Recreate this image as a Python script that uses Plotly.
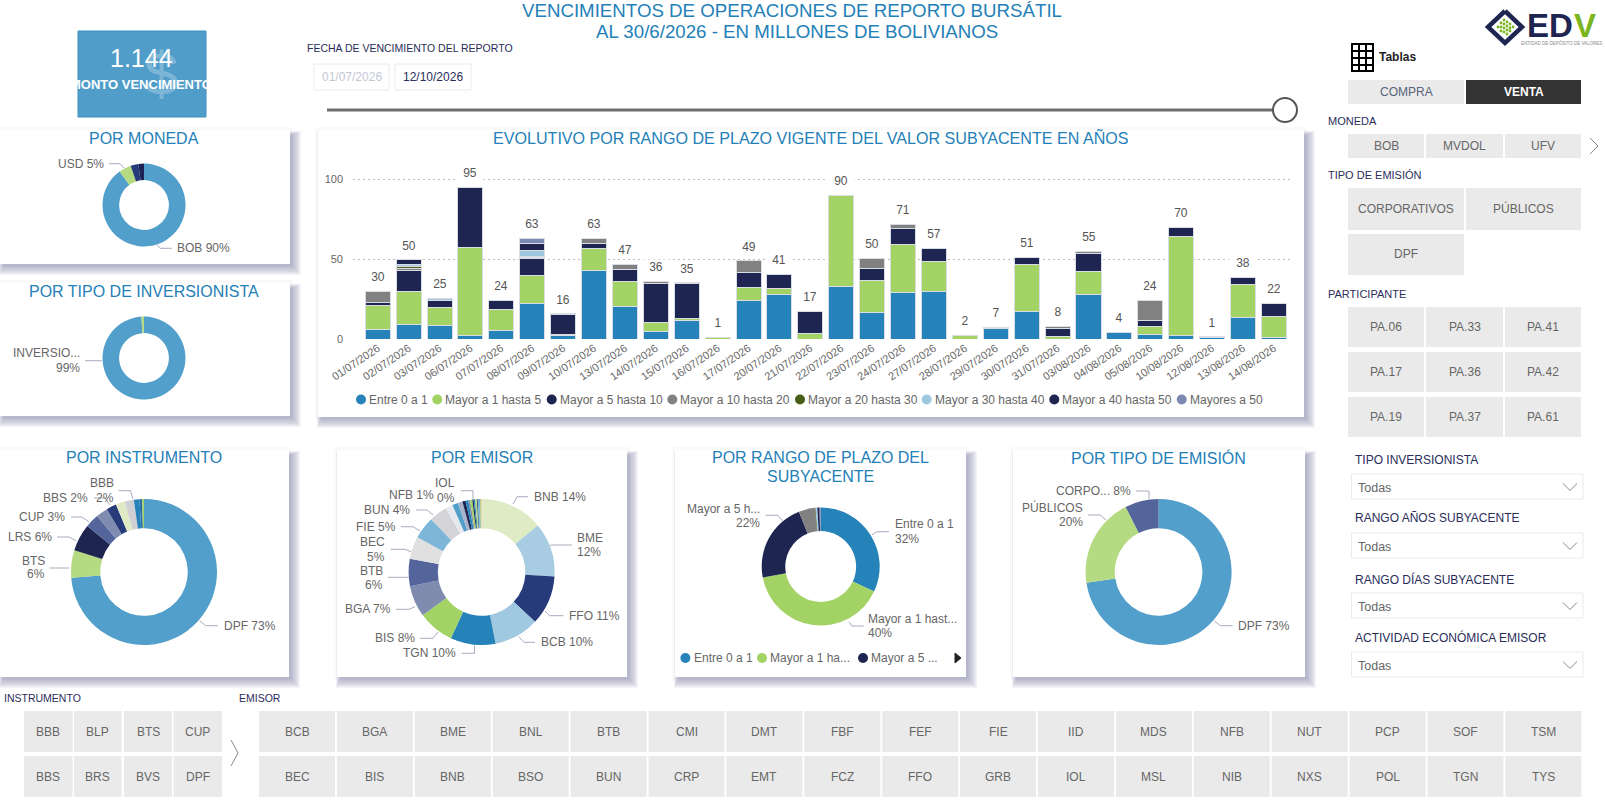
import plotly.graph_objects as go

W, H = 1605, 803
FONT = "Liberation Sans"

# ---- data ----
dates = ["01/07/2026", "02/07/2026", "03/07/2026", "06/07/2026", "07/07/2026", "08/07/2026",
         "09/07/2026", "10/07/2026", "13/07/2026", "14/07/2026", "15/07/2026", "16/07/2026",
         "17/07/2026", "20/07/2026", "21/07/2026", "22/07/2026", "23/07/2026", "24/07/2026",
         "27/07/2026", "28/07/2026", "29/07/2026", "30/07/2026", "31/07/2026", "03/08/2026",
         "04/08/2026", "05/08/2026", "10/08/2026", "12/08/2026", "13/08/2026", "14/08/2026"]
totals = [30, 50, 25, 95, 24, 63, 16, 63, 47, 36, 35, 1, 49, 41, 17, 90, 50, 71, 57, 2, 7, 51, 8,
          55, 4, 24, 70, 1, 38, 22]

entre_0_1 = [5.8, 8.8, 8.3, 2, 5.4, 21.9, 2, 43, 20.2, 5, 11.5, 0, 23.8, 28, 0, 33, 16.3, 29, 29.6,
             0, 6.5, 17.3, 0, 28.1, 4.2, 3, 2, 1, 13.3, 1.2]
mayor_1_5 = [15.2, 20.8, 11.5, 55.4, 13.1, 17.7, 0.8, 13.8, 15.6, 5.6, 1.6, 1.2, 8.7, 3.8, 3.7, 56.7,
             20, 30.2, 18.8, 2.3, 0, 29.4, 1.7, 14, 0, 5, 62, 0, 20.8, 13]
mayor_5_10 = [2, 13.5, 4.4, 37.3, 5.8, 11, 12.7, 3, 7.9, 24, 21.5, 0, 8.8, 8.8, 13.5, 0, 7.9, 9.8,
              8.3, 0, 1, 4.4, 4.8, 11.2, 0, 3.8, 6, 0, 4.4, 8.3]
mayor_10_20 = [7, 1, 0, 0, 0, 0.5, 0.3, 3.1, 3.1, 1.6, 0, 0, 7.5, 0, 0, 0, 6.2, 2.7, 0, 0, 0, 0, 1.5,
               1.7, 0, 12.4, 0, 0, 0, 0]
mayor_20_30 = [0, 1.2, 0, 0, 0, 0.6, 0, 0, 0, 0, 0, 0, 0, 0, 0, 0, 0, 0, 0, 0, 0, 0, 0, 0, 0, 0, 0, 0, 0, 0]
mayor_30_40 = [0, 1.5, 1.2, 0, 0, 3.5, 0, 0, 0, 0, 0.6, 0, 0, 0, 0, 0, 0, 0, 0, 0, 0, 0, 0, 0, 0, 0, 0, 0, 0, 0]
mayor_40_50 = [0, 2.7, 0, 0, 0, 4.2, 0, 0, 0, 0, 0, 0, 0, 0, 0, 0, 0, 0, 0, 0, 0, 0, 0, 0, 0, 0, 0, 0, 0, 0]
mayores_50 = [0, 0, 0, 0, 0, 3.5, 0, 0, 0, 0, 0, 0, 0, 0, 0, 0, 0, 0, 0, 0, 0, 0, 0, 0, 0, 0, 0, 0.5, 0, 0]

rango_names = ["Entre 0 a 1", "Mayor a 1 hasta 5", "Mayor a 5 hasta 10", "Mayor a 10 hasta 20",
               "Mayor a 20 hasta 30", "Mayor a 30 hasta 40", "Mayor a 40 hasta 50", "Mayores a 50"]
rango_series = [entre_0_1, mayor_1_5, mayor_5_10, mayor_10_20, mayor_20_30, mayor_30_40, mayor_40_50, mayores_50]
rango_colors = ["#2683B9", "#A3D365", "#1F2551", "#818181", "#4A5E17", "#9EC8E0", "#1F2551", "#7C8AB3"]

moneda_names = ["BOB", "USD", "MVDOL", "UFV"]
moneda_values = [90, 4.8, 3, 2.2]
moneda_colors = ["#519FCA", "#B5DB82", "#273B7A", "#1D2355"]

inversionista_names = ["INVERSIONISTA", "OTROS"]
inversionista_values = [99, 1]
inversionista_colors = ["#519FCA", "#B5DB82"]

instrumento_names = ["DPF", "BTS", "LRS", "CUP", "BLP", "BBS", "BRS", "BBB", "BVS", "VTD", "PGB"]
instrumento_values = [73, 6, 6, 3, 2.6, 2.2, 2, 2, 1.2, 0.6, 0.4]
instrumento_colors = ["#519FCA", "#B5DB82", "#1F2551", "#53659A", "#7F8CB0", "#273B7A", "#DEEBC4",
                      "#CFCFD4", "#2683B9", "#2A6FA8", "#A3D365"]

emisor_names = ["BNB", "BME", "FFO", "BCB", "TGN", "BIS", "BGA", "BTB", "BEC", "FIE", "BUN", "BSO",
                "NFB", "IOL", "CMI", "CRP", "DMT", "EMT", "FBF", "FCZ", "FEF", "GRB", "IID", "MDS",
                "MSL", "NIB"]
emisor_values = [14, 12, 11, 10, 10, 8, 7, 6, 5, 5, 4, 1.6, 1.3, 1, 0.7, 0.6, 0.4, 0.5, 0.3, 0.3, 0.4,
                 0.2, 0.3, 0.2, 0.2, 0.15]
emisor_colors = ["#DEEBC4", "#A8CDE3", "#273B7A", "#A0C8E0", "#2683B9", "#A3D365", "#7F8CB0", "#53659A",
                 "#E0E0E0", "#7DB6D8", "#D3D3D8", "#E6E8EF", "#519FCA", "#A9B1CB", "#1F2551", "#2683B9",
                 "#7F8CB0", "#A3D365", "#1F2551", "#2683B9", "#B5DB82", "#273B7A", "#7DB6D8", "#519FCA",
                 "#A3D365", "#F2B8A8"]

plazo_values = [32, 40, 22, 4.4, 0.2, 0.5, 0.6, 0.3]

emision_names = ["DPF", "PÚBLICOS", "CORPORATIVOS"]
emision_values = [73, 20, 7.5]
emision_colors = ["#519FCA", "#B5DB82", "#53659A"]

moneda_buttons = ["BOB", "MVDOL", "UFV"]
participantes = [["PA.06", "PA.33", "PA.41"], ["PA.17", "PA.36", "PA.42"], ["PA.19", "PA.37", "PA.61"]]
instrumento_buttons = [["BBB", "BLP", "BTS", "CUP"], ["BBS", "BRS", "BVS", "DPF"]]
emisor_buttons = [["BCB", "BGA", "BME", "BNL", "BTB", "CMI", "DMT", "FBF", "FEF", "FIE", "IID", "MDS",
                   "NFB", "NUT", "PCP", "SOF", "TSM"],
                  ["BEC", "BIS", "BNB", "BSO", "BUN", "CRP", "EMT", "FCZ", "FFO", "GRB", "IOL", "MSL",
                   "NIB", "NXS", "POL", "TGN", "TYS"]]

BLUE_TITLE = "#2380B8"
LABEL = "#666666"
DARK = "#2A2D5A"
LEADER = "#A8ABBF"
BTN = "#EAEAEA"

shapes = []
annotations = []


def px(x):
    return x / W


def py(y):
    return 1 - y / H


def rect(x0, y0, x1, y1, fill, line=None, opacity=1, width=1):
    shapes.append(dict(type="rect", xref="paper", yref="paper", x0=px(x0), x1=px(x1), y0=py(y0), y1=py(y1),
                       fillcolor=fill, opacity=opacity, layer="below",
                       line=dict(color=line, width=width) if line else dict(width=0)))


def circle(x, y, r, fill, line=None, width=1):
    shapes.append(dict(type="circle", xref="paper", yref="paper", x0=px(x - r), x1=px(x + r), y0=py(y + r),
                       y1=py(y - r), fillcolor=fill, layer="below",
                       line=dict(color=line, width=width) if line else dict(width=0)))


def poly(points, color=LEADER, width=1, fill=None):
    d = "M" + " L".join(f"{px(a):.5f},{py(b):.5f}" for a, b in points)
    if fill:
        d += " Z"
    shapes.append(dict(type="path", xref="paper", yref="paper", path=d, layer="below",
                       fillcolor=fill if fill else "rgba(0,0,0,0)", line=dict(color=color, width=width)))


def txt(x, y, s, size=12, color=LABEL, anchor="center", bold=False):
    annotations.append(dict(xref="paper", yref="paper", x=px(x), y=py(y), text=f"<b>{s}</b>" if bold else s,
                            showarrow=False, xanchor=anchor, yanchor="middle", borderpad=0,
                            font=dict(family=FONT, size=size, color=color)))


def card(x0, y0, x1, y1):
    # soft shadow down and to the right, then the white card
    rect(x0 - 3, y0 - 3, x1 + 3, y1 + 3, "#9A9CB8", opacity=0.05)
    for grow in range(10, 0, -1):
        rect(max(x0 + 4 - grow * 0.5, 0), y0 + 6 - grow * 0.5, x1 + 1 + grow, y1 + 1 + grow, "#8E90AE", opacity=0.09)
    rect(x0, y0, x1, y1, "white")


def button(x0, y0, x1, y1, s, size=12, fill=BTN, color=LABEL, bold=False):
    rect(x0, y0, x1, y1, fill)
    txt((x0 + x1) / 2, (y0 + y1) / 2, s, size, color, bold=bold)


def chevron_right(x, y, w, h, color="#8A8A8A"):
    poly([(x, y - h), (x + w, y), (x, y + h)], color, 1)


def chevron_down(x, y, w, h, color="#8A8A8A"):
    poly([(x - w, y - h), (x, y + h), (x + w, y - h)], color, 1)


fig = go.Figure()


def donut(names, values, colors, cx, cy, r, hole=0.6):
    fig.add_trace(go.Pie(labels=names, values=values, hole=hole, sort=False, direction="clockwise", rotation=0,
                         textinfo="none", showlegend=False, hoverinfo="label+percent",
                         marker=dict(colors=colors, line=dict(width=0)),
                         domain=dict(x=[px(cx - r), px(cx + r)], y=[py(cy + r), py(cy - r)])))


# ---- page cards ----
card(0, 130, 290, 264)
card(0, 283, 290, 416)
card(318, 130, 1304, 417)
card(0, 450, 289, 677)
card(337, 450, 627, 677)
card(675, 450, 966, 677)
card(1013, 450, 1305, 677)

# ---- header ----
txt(792, 10, "VENCIMIENTOS DE OPERACIONES DE REPORTO BURSÁTIL", 18.7, BLUE_TITLE)
txt(797, 31, "AL 30/6/2026 - EN MILLONES DE BOLIVIANOS", 18.7, BLUE_TITLE)

rect(78, 31, 206, 117, "#519DC9", "#3F8FC0")
txt(161, 73, "$", 62, "rgba(255,255,255,0.25)")
txt(141, 58, "1.144", 25, "white")
txt(141, 85, "MONTO VENCIMIENTO", 13, "white", bold=True)

txt(306, 48, "FECHA DE VENCIMIENTO DEL REPORTO", 10.5, DARK, "left")
rect(314, 64, 389, 90, "white", "#EAEAEE", width=1)
txt(351.5, 77, "01/07/2026", 12, "#C4C6D4")
rect(395, 64, 471, 90, "white", "#EAEAEE", width=1)
txt(433, 77, "12/10/2026", 12, DARK)
poly([(327, 110), (1285, 110)], "#6E6E6A", 3)
circle(1285, 110, 12, "white", "#555555", 2)

# logo
poly([(1505, 11), (1522, 27), (1505, 43), (1488, 27), (1505, 11)], "#1F2551", 4.5)
for dx, dy in [(-7, 0), (-4, -4), (-4, 0), (-4, 4), (-1, -7), (-1, -3), (-1, 1), (-1, 5), (2, -5), (2, -1), (2, 3),
               (2, 7), (5, -3), (5, 1), (5, 4), (8, 0)]:
    circle(1505 + dx, 27 + dy, 1.4, "#7AB51D")
txt(1526, 25, "ED", 33, "#1F2551", "left", bold=True)
txt(1573, 25, "V", 33, "#7AB51D", "left", bold=True)
txt(1561, 43, "ENTIDAD DE DEPÓSITO DE VALORES", 4.5, "#8A8A8A")

# tablas icon
rect(1352, 44, 1373, 71, "white", "black", width=2)
for gx in (1359, 1366):
    poly([(gx, 44), (gx, 71)], "black", 2)
for gy in (51, 58, 65):
    poly([(1352, gy), (1373, gy)], "black", 2)
txt(1378, 57, "Tablas", 12, "#222222", "left", bold=True)

# ---- right slicers ----
button(1348, 80, 1464, 104, "COMPRA", 12, BTN, "#56657A")
button(1466, 80, 1581, 104, "VENTA", 12, "#333333", "white", bold=True)

col_x = [(1348, 1424), (1426, 1503), (1505, 1581)]
txt(1327, 121, "MONEDA", 11, DARK, "left")
for (x0, x1), s in zip(col_x, moneda_buttons):
    button(x0, 134, x1, 158, s)
chevron_right(1590, 146, 8, 8)

txt(1327, 175, "TIPO DE EMISIÓN", 11, DARK, "left")
button(1348, 188, 1464, 230, "CORPORATIVOS")
button(1466, 188, 1581, 230, "PÚBLICOS")
button(1348, 234, 1464, 275, "DPF")

txt(1327, 294, "PARTICIPANTE", 11, DARK, "left")
for row, y0 in zip(participantes, [307, 352, 397]):
    for (x0, x1), s in zip(col_x, row):
        button(x0, y0, x1, y0 + 40, s)

dropdowns = [("TIPO INVERSIONISTA", 460, 474), ("RANGO AÑOS SUBYACENTE", 518, 533),
             ("RANGO DÍAS SUBYACENTE", 579, 593), ("ACTIVIDAD ECONÓMICA EMISOR", 637, 652)]
for name, ly, by in dropdowns:
    txt(1354, ly, name, 12, DARK, "left")
    rect(1351.5, by, 1583, by + 25, "white", "#EAEAEE", width=1)
    txt(1357, by + 14, "Todas", 12.5, LABEL, "left")
    chevron_down(1570, by + 13, 7, 3.5)

# ---- bottom slicers ----
txt(3, 698, "INSTRUMENTO", 10.5, DARK, "left")
txt(238, 698, "EMISOR", 10.5, DARK, "left")
inst_cols = [(24, 72.5), (74, 121.5), (124, 172), (173.5, 222)]
for row, (y0, y1) in zip(instrumento_buttons, [(711, 752), (756, 797)]):
    for (x0, x1), s in zip(inst_cols, row):
        button(x0, y0, x1, y1, s)
chevron_right(231, 753, 7, 13)
for row, (y0, y1) in zip(emisor_buttons, [(711, 752), (756, 797)]):
    for i, s in enumerate(row):
        button(259 + i * 77.9, y0, 259 + i * 77.9 + 76, y1, s)

# ---- stacked bars ----
for name, vals, color in zip(rango_names, rango_series, rango_colors):
    fig.add_trace(go.Bar(x=dates, y=vals, name=name, marker=dict(color=color, line=dict(color="#DADDE3", width=1)),
                         showlegend=False, xaxis="x", yaxis="y"))

for i, d in enumerate(dates):
    top = sum(s[i] for s in rango_series)
    annotations.append(dict(x=d, y=top, xref="x", yref="y", text=str(totals[i]), showarrow=False, yshift=14,
                            yanchor="middle", bgcolor="white", width=26, borderpad=0,
                            font=dict(family=FONT, size=12, color="#555555")))

txt(811, 137.5, "EVOLUTIVO POR RANGO DE PLAZO VIGENTE DEL VALOR SUBYACENTE EN AÑOS", 16.1, BLUE_TITLE)

legend_dots = [361, 437.3, 551.7, 672.3, 800, 926.7, 1054.3, 1181.7]
for dot_x, name, color in zip(legend_dots, rango_names, rango_colors):
    circle(dot_x, 399.5, 5, color)
    txt(dot_x + 7, 399.5, name, 12, LABEL, "left")

# ---- donuts ----
donut(moneda_names, moneda_values, moneda_colors, 144, 205, 41.5)
donut(inversionista_names, inversionista_values, inversionista_colors, 144, 358, 41.5)
donut(instrumento_names, instrumento_values, instrumento_colors, 144, 572, 73)
donut(emisor_names, emisor_values, emisor_colors, 481.6, 572, 73)
donut(rango_names, plazo_values, rango_colors, 820.7, 566.5, 59)
donut(emision_names, emision_values, emision_colors, 1158.6, 572, 73)

txt(144, 138, "POR MONEDA", 16, BLUE_TITLE)
txt(144, 291, "POR TIPO DE INVERSIONISTA", 16, BLUE_TITLE)
txt(143.5, 458, "POR INSTRUMENTO", 16, BLUE_TITLE)
txt(481.6, 458, "POR EMISOR", 16, BLUE_TITLE)
txt(820.7, 458, "POR RANGO DE PLAZO DEL", 16, BLUE_TITLE)
txt(820.7, 476, "SUBYACENTE", 16, BLUE_TITLE)
txt(1158.6, 458, "POR TIPO DE EMISIÓN", 16, BLUE_TITLE)

# donut labels: text pieces and their leader lines
pie_labels = [
    ("USD 5%", 104.7, 163.7, "right"), ("BOB 90%", 175.7, 248.3, "left"),
    ("INVERSIO...", 80.7, 353.3, "right"), ("99%", 80.7, 367.7, "right"),
    ("DPF 73%", 222.6, 625.7, "left"), ("BTS", 45.5, 561, "right"), ("6%", 45.5, 574, "right"),
    ("LRS 6%", 52.6, 536.7, "right"), ("CUP 3%", 66, 516.7, "right"), ("BBS 2%", 89, 498, "right"),
    ("BBB", 114.7, 483, "right"), ("2%", 114.7, 497.7, "right"),
    ("BNB 14%", 532.6, 496.7, "left"), ("BME", 576, 537.7, "left"), ("12%", 576, 551.7, "left"),
    ("FFO 11%", 568, 615.7, "left"), ("BCB 10%", 539.7, 642.3, "left"), ("TGN 10%", 457.5, 653.3, "right"),
    ("BIS 8%", 416, 638.3, "right"), ("BGA 7%", 391.5, 609.3, "right"), ("BTB", 383.5, 570.7, "right"),
    ("6%", 383.5, 585, "right"), ("BEC", 386, 541.7, "right"), ("5%", 386, 556.7, "right"),
    ("FIE 5%", 396.6, 526.7, "right"), ("BUN 4%", 411, 510, "right"), ("NFB 1%", 435, 495, "right"),
    ("IOL", 456, 483, "right"), ("0%", 456, 497.7, "right"),
    ("Entre 0 a 1", 893.9, 524.3, "left"), ("32%", 893.9, 539, "left"),
    ("Mayor a 1 hast...", 867.4, 619, "left"), ("40%", 867.4, 632.7, "left"),
    ("Mayor a 5 h...", 761.3, 509, "right"), ("22%", 761.3, 522.7, "right"),
    ("DPF 73%", 1237.4, 625.7, "left"), ("PÚBLICOS", 1084, 507.7, "right"), ("20%", 1084, 521.7, "right"),
    ("CORPO... 8%", 1132, 491, "right"),
]
for s, x, y, a in pie_labels:
    txt(x, y, s, 12, LABEL, a)

leaders = [
    [(109, 163.7), (120, 163.7), (124, 168)], [(171.7, 248.3), (160, 248.3), (157, 245)],
    [(85, 360.7), (101.7, 360.7)],
    [(199.7, 620.7), (205.6, 625.7), (218, 625.7)], [(49.4, 568), (69, 568)],
    [(57, 537), (69, 537), (76, 540.7)], [(71, 517), (82, 517), (89, 522)],
    [(94, 498), (105, 498), (110, 505)], [(118.6, 490.7), (130.5, 490.7), (133, 499)],
    [(528, 496.7), (517, 496.7), (513, 504)], [(572, 545), (551.6, 545), (541.7, 547.7)],
    [(563.5, 615.7), (549.6, 615.7), (545, 611)], [(535, 642.3), (524, 642.3), (518.8, 636.7)],
    [(461.8, 653.3), (474.5, 653.3), (474.5, 645.7)], [(420, 638.3), (433, 638.3), (438, 632)],
    [(396, 609.3), (409, 609.3), (415, 606.7)], [(388, 577.3), (408.5, 577.3)],
    [(390.7, 549.3), (405, 549.3), (411, 551.7)], [(401, 526.7), (413, 526.7), (420, 531)],
    [(416, 510), (427, 510), (433, 515)], [(460.7, 490.7), (473, 490.7), (473, 499)],
    [(889, 531.7), (877, 531.7), (872, 535)], [(863.7, 626), (852, 626), (849, 621.7)],
    [(765.7, 515.3), (777.8, 515.3), (782.6, 521)],
    [(1232.6, 625.7), (1220.5, 625.7), (1214.5, 621)], [(1088, 515), (1100, 515), (1106, 520)],
    [(1136, 491), (1149, 491), (1149, 499)],
]
for pts in leaders:
    poly(pts)

# legend of the plazo donut
circle(685.4, 658, 5, rango_colors[0])
txt(693.4, 658, "Entre 0 a 1", 12, LABEL, "left")
circle(762, 658, 5, rango_colors[1])
txt(769, 658, "Mayor a 1 ha...", 12, LABEL, "left")
circle(863, 658, 5, rango_colors[2])
txt(869.8, 658, "Mayor a 5 ...", 12, LABEL, "left")
poly([(955, 653), (961, 658), (955, 663)], "#222222", 1, fill="#222222")

fig.update_layout(
    width=W, height=H, autosize=False, margin=dict(l=0, r=0, t=0, b=0, autoexpand=False),
    paper_bgcolor="white", plot_bgcolor="rgba(0,0,0,0)",
    barmode="stack", bargap=0.19, showlegend=False,
    font=dict(family=FONT, color=LABEL),
    shapes=shapes, annotations=annotations,
    xaxis=dict(type="category", domain=[px(353), px(1290)], range=[-0.8, 29.52], tickangle=-34,
               showgrid=False, showline=False, zeroline=False, tickfont=dict(size=11, color=LABEL, family=FONT),
               anchor="y"),
    yaxis=dict(domain=[py(339), py(147)], range=[0, 120], tickvals=[0, 50, 100], griddash="1.5px,3.5px",
               gridcolor="#BDBDBD", gridwidth=1, showline=False, zeroline=False, ticklabelstandoff=9,
               tickfont=dict(size=11, color=LABEL, family=FONT), anchor="x"),
)

fig.write_html("out.html", config={"displayModeBar": False}, post_script="document.body.style.margin='0';")
